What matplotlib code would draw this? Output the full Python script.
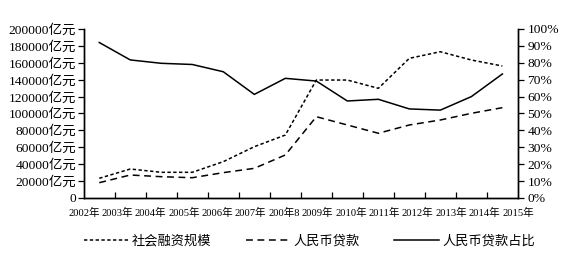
import matplotlib
matplotlib.use("Agg")
import matplotlib.pyplot as plt
import numpy as np

plt.rcParams['font.family'] = ['Liberation Serif', 'Noto Sans CJK SC']

years = ['2002年', '2003年', '2004年', '2005年', '2006年', '2007年', '200年8',
         '2009年', '2010年', '2011年', '2012年', '2013年', '2014年', '2015年']
# 社会融资规模 (亿元)
financing = [23300, 34300, 30400, 30400, 43000, 60700, 74500,
             139600, 139600, 129800, 165300, 173100, 163300, 156200]
# 人民币贷款 (亿元)
loans = [18100, 27200, 25200, 24000, 30000, 35100, 50900,
         96200, 86400, 76600, 86400, 92300, 100200, 106900]
# 人民币贷款占比 (%)
loan_share = [92.0, 81.7, 79.7, 79.0, 74.7, 61.3, 70.8,
              69.2, 57.4, 58.4, 52.7, 52.0, 60.0, 73.4]

left_ticks = list(range(0, 200001, 20000))
left_labels = ['0'] + [str(v) + '亿元' for v in left_ticks[1:]]
right_ticks = list(range(0, 101, 10))
right_labels = [str(v) + '%' for v in right_ticks]

fig = plt.figure(figsize=(5.66, 2.58), dpi=100)
ax = fig.add_axes([0.148, 0.2326, 0.767, 0.655])
ax2 = ax.twinx()

n = len(years)
x = np.arange(n) + 0.5

l1, = ax.plot(x, financing, color='black', lw=1.1, linestyle=(0, (2.2, 1.6)))
l2, = ax.plot(x, loans, color='black', lw=1.1, linestyle=(0, (4.5, 3)))
l3, = ax2.plot(x, loan_share, color='black', lw=1.1)

ax.set_xlim(0, n)
ax.set_ylim(0, 200000)
ax2.set_ylim(0, 100)

ax.set_yticks(left_ticks)
ax.set_yticklabels(left_labels, fontsize=9.7)
ax2.set_yticks(right_ticks)
ax2.set_yticklabels(right_labels, fontsize=9.7)

# category labels spread evenly over the axis, tick marks at category edges
ax.set_xticks(np.linspace(0, n, n))
ax.set_xticklabels(years, fontsize=7.6)
ax.set_xticks(np.arange(n + 1), minor=True)
ax.tick_params(axis='x', which='major', length=0, pad=7)
ax.tick_params(axis='x', which='minor', direction='in', length=4, width=0.9)
ax.tick_params(axis='y', direction='out', length=4, width=0.9, pad=1.5)
ax2.tick_params(axis='y', direction='out', length=4, width=0.9, pad=3)

for a in (ax, ax2):
    a.spines['top'].set_visible(False)
    for s in ('left', 'right', 'bottom'):
        a.spines[s].set_linewidth(1.0)

fig.legend([l1, l2, l3], ['社会融资规模', '人民币贷款', '人民币贷款占比'],
           loc='center', bbox_to_anchor=(0.547, 0.066), ncol=3, frameon=False,
           fontsize=9.5, handlelength=3.4, handletextpad=0.25, columnspacing=2.6)

fig.savefig('out.png', dpi=100)
